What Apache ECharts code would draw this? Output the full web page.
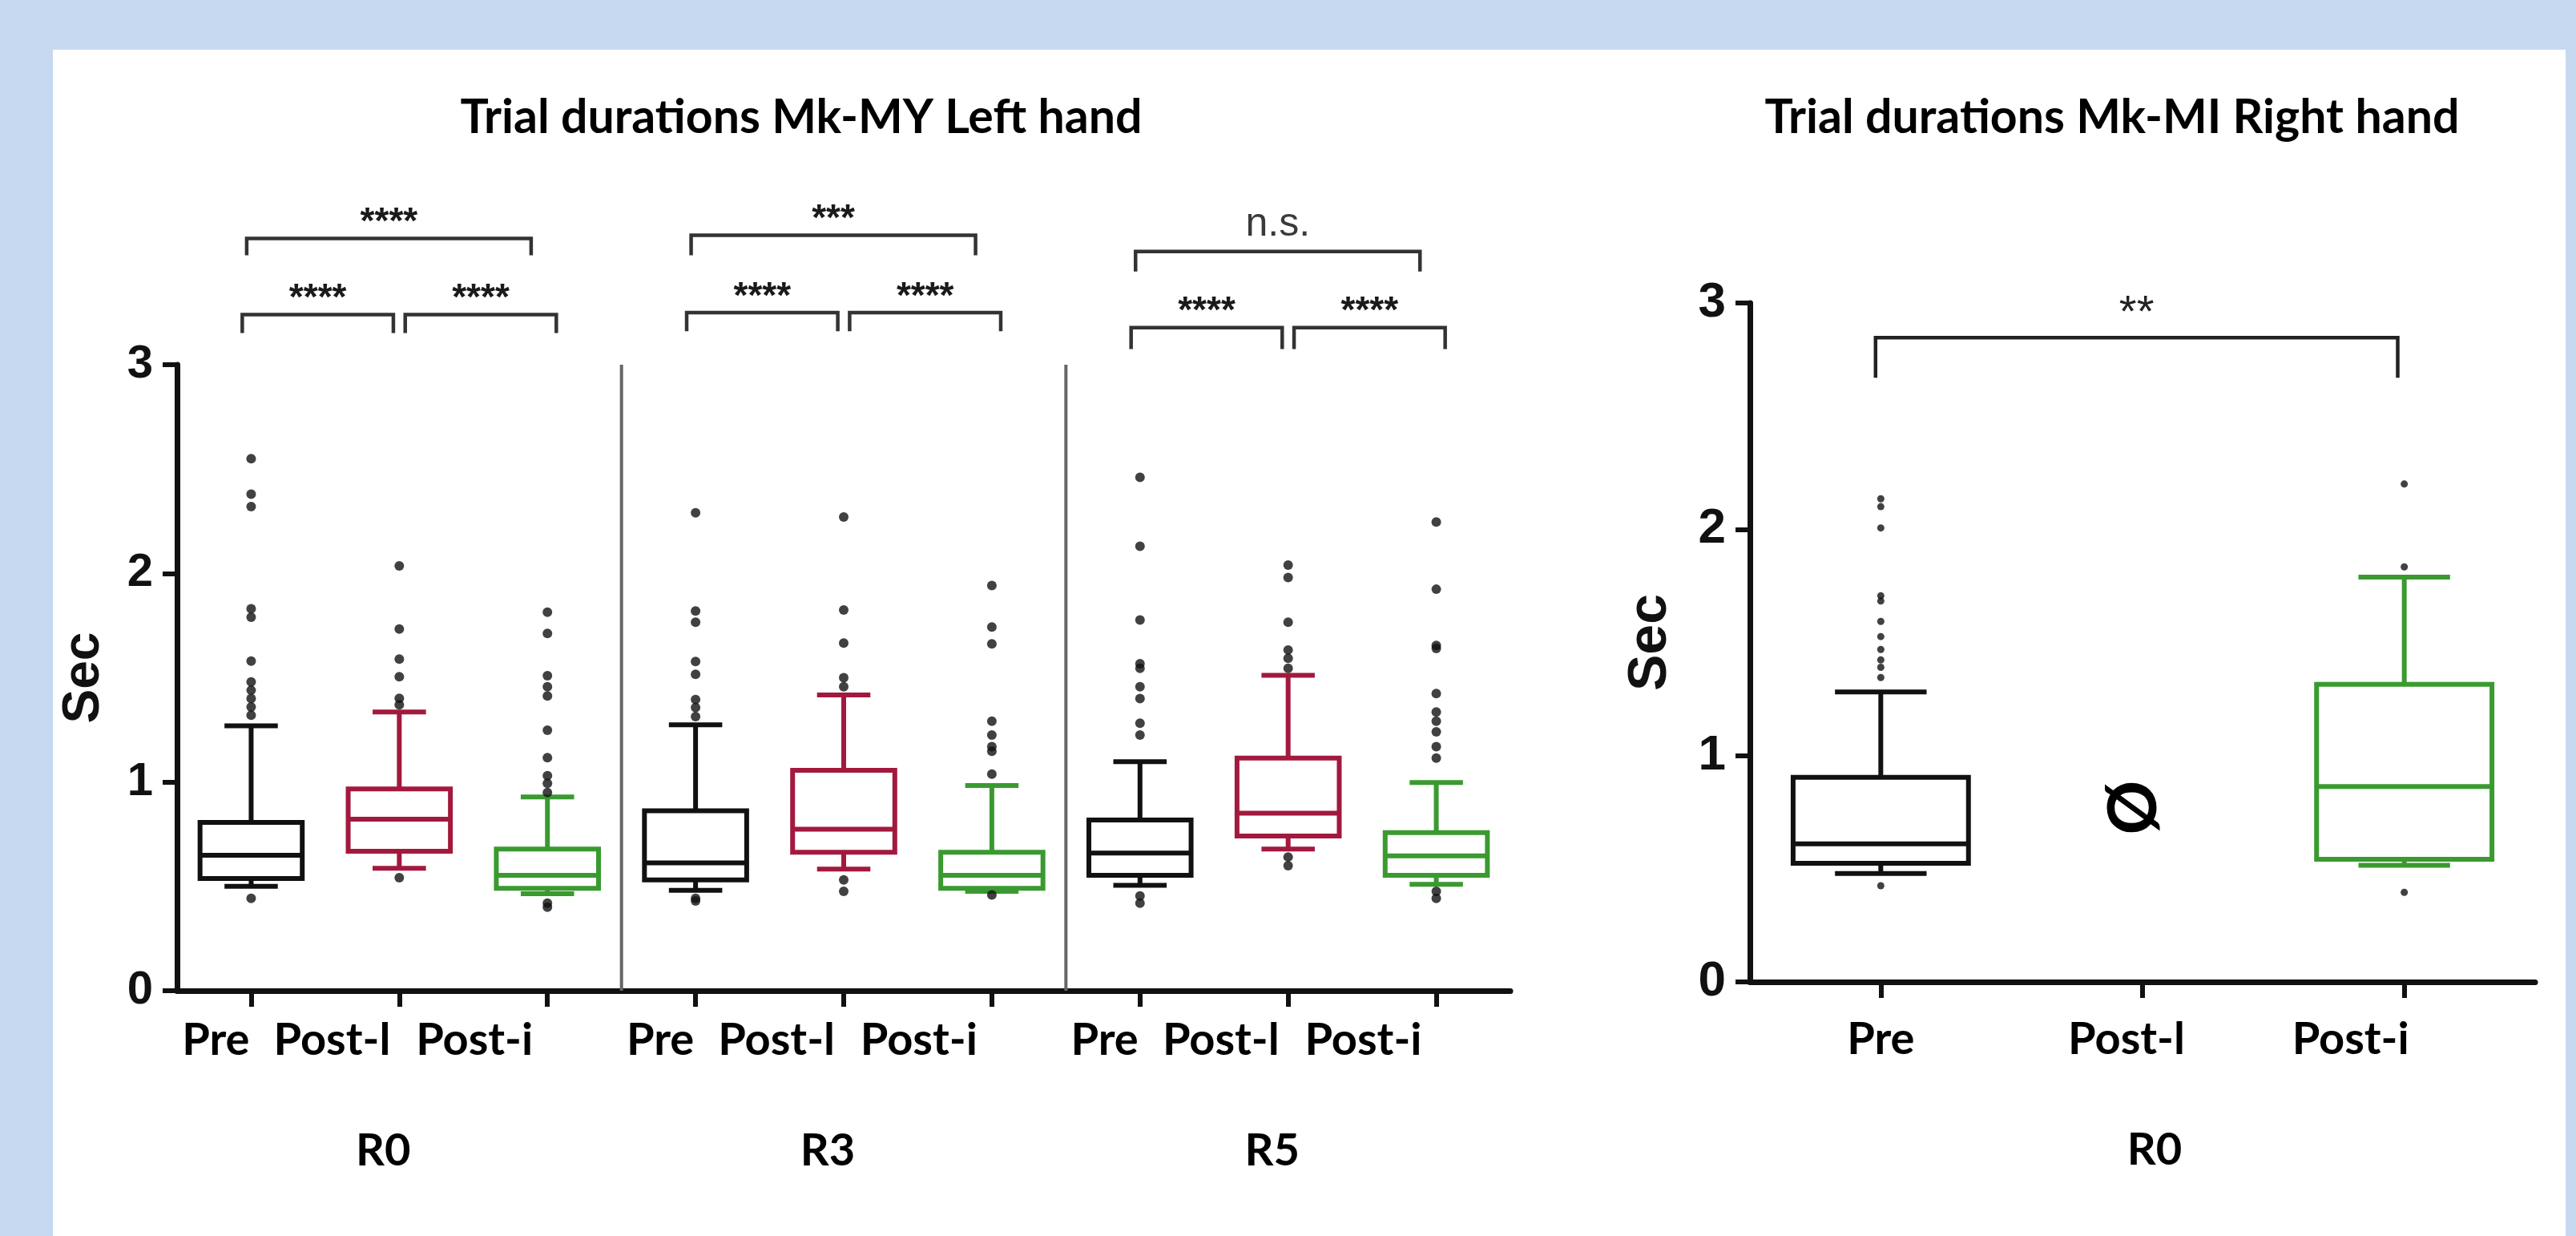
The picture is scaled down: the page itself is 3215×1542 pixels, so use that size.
<!DOCTYPE html>
<html><head><meta charset="utf-8">
<script src="https://cdn.jsdelivr.net/npm/echarts@6/dist/echarts.min.js"></script>
<style>
html,body{margin:0;padding:0;background:#c6d9f0;width:3215px;height:1542px;overflow:hidden;}
#panel{position:absolute;left:66px;top:62px;width:3136px;height:1480px;background:#fff;}
#c{position:absolute;left:0;top:0;width:3215px;height:1542px;}
</style>
</head><body><div id="panel"></div><div id="c"></div>
<script>
// ---------------- data ----------------
const categoriesLeft = ['Pre', 'Post-l', 'Post-i', 'Pre', 'Post-l', 'Post-i', 'Pre', 'Post-l', 'Post-i'];
const groupsLeft = ['R0', 'R3', 'R5'];
const categoriesRight = ['Pre', 'Post-l', 'Post-i'];
const groupsRight = ['R0'];
const yTickValues = [0, 1, 2, 3];
const titleLeft = 'Trial durations Mk-MY Left hand';
const titleRight = 'Trial durations Mk-MI Right hand';
const yName = 'Sec';
// [low whisker, Q1, median, Q3, high whisker]
const boxLeft = [
  [0.500, 0.538, 0.649, 0.807, 1.270],
  [0.587, 0.668, 0.822, 0.967, 1.336],
  [0.465, 0.491, 0.553, 0.679, 0.929],
  [0.481, 0.531, 0.613, 0.862, 1.274],
  [0.583, 0.664, 0.774, 1.056, 1.417],
  [0.476, 0.491, 0.553, 0.664, 0.983],
  [0.505, 0.553, 0.660, 0.818, 1.098],
  [0.679, 0.741, 0.851, 1.115, 1.512],
  [0.510, 0.553, 0.646, 0.758, 0.998]
];
const outliersLeft = [
  [2.55, 2.38, 2.32, 1.83, 1.79, 1.58, 1.48, 1.44, 1.40, 1.36, 1.32, 0.443],
  [2.036, 1.733, 1.589, 1.505, 1.401, 1.37, 0.542],
  [1.814, 1.712, 1.51, 1.457, 1.413, 1.248, 1.117, 1.03, 0.994, 0.95, 0.42, 0.40],
  [2.29, 1.82, 1.766, 1.578, 1.516, 1.395, 1.357, 1.314, 0.443, 0.43],
  [2.27, 1.825, 1.666, 1.50, 1.457, 0.531, 0.476],
  [1.942, 1.743, 1.662, 1.292, 1.225, 1.17, 1.148, 1.038, 0.459],
  [2.46, 2.13, 1.777, 1.567, 1.545, 1.457, 1.40, 1.282, 1.225, 0.454, 0.42],
  [2.04, 1.98, 1.766, 1.633, 1.593, 1.545, 0.641, 0.599],
  [2.246, 1.924, 1.655, 1.64, 1.424, 1.336, 1.292, 1.241, 1.17, 1.115, 0.476, 0.443]
];
const boxRight = [
  [0.479, 0.524, 0.610, 0.904, 1.281],
  null,
  [0.515, 0.542, 0.863, 1.315, 1.789]
];
const outliersRight = [
  [2.135, 2.10, 2.006, 1.706, 1.683, 1.593, 1.526, 1.469, 1.423, 1.39, 1.345, 0.425],
  [],
  [2.20, 1.834, 0.396]
];
// significance comparisons [from category, to category, label]
const sigLeft = [
  [0, 2, '****'], [0, 1, '****'], [1, 2, '****'],
  [3, 5, '***'], [3, 4, '****'], [4, 5, '****'],
  [6, 8, 'n.s.'], [6, 7, '****'], [7, 8, '****']
];
const sigRight = [[0, 2, '**']];
const missingRight = [[1, 'Ø']];

// ---------------- styling / layout (not data) ----------------
const boxColors = ['#111111', '#a3193e', '#3a9a30'];
const lineCol = '#111111';
const bracketCol = '#333333';
const catFont = 'Lato';
const numFont = 'Liberation Sans';
// tier heights per group: [topLine, topEnd, lowLine, lowEnd]
const tierY = [[3.605, 3.524, 3.24, 3.152], [3.62, 3.524, 3.25, 3.16], [3.543, 3.447, 3.178, 3.075]];

const chart = echarts.init(document.getElementById('c'), null, {renderer: 'canvas'});

function boxRenderer(lw, boxFrac, capFrac) {
  return function (params, api) {
    const idx = api.value(0);
    const v = [1, 2, 3, 4, 5].map(d => api.value(d));
    const band = api.size([1, 0])[0];
    const xc = api.coord([idx, v[2]])[0];
    const y = v.map(val => api.coord([idx, val])[1]);
    const bw = band * boxFrac, cw = band * capFrac;
    const c = boxColors[idx % 3];
    const st = {stroke: c, lineWidth: lw, fill: null};
    return {
      type: 'group',
      children: [
        {type: 'line', shape: {x1: xc, y1: y[3], x2: xc, y2: y[4]}, style: st},
        {type: 'line', shape: {x1: xc, y1: y[1], x2: xc, y2: y[0]}, style: st},
        {type: 'line', shape: {x1: xc - cw / 2, y1: y[4], x2: xc + cw / 2, y2: y[4]}, style: st},
        {type: 'line', shape: {x1: xc - cw / 2, y1: y[0], x2: xc + cw / 2, y2: y[0]}, style: st},
        {type: 'rect', shape: {x: xc - bw / 2, y: y[3], width: bw, height: y[1] - y[3]}, style: {stroke: c, lineWidth: lw, fill: null}},
        {type: 'line', shape: {x1: xc - bw / 2, y1: y[2], x2: xc + bw / 2, y2: y[2]}, style: st}
      ]
    };
  };
}

function boxData(arr) {
  const out = [];
  arr.forEach((b, i) => { if (b) out.push([i].concat(b)); });
  return out;
}
function outlierData(arr) {
  const out = [];
  arr.forEach((list, i) => list.forEach(v => out.push([i, v])));
  return out;
}

function bracketLeftRenderer(params, api) {
  const s = sigLeft[params.dataIndex];
  const a = s[0], b = s[1];
  const g = Math.floor(a / 3);
  const top = (b - a) === 2;
  let x1, x2, yh, ye;
  if (top) { x1 = a - 0.03; x2 = b - 0.11; yh = tierY[g][0]; ye = tierY[g][1]; }
  else if (a % 3 === 0) { x1 = a - 0.06; x2 = b - 0.04; yh = tierY[g][2]; ye = tierY[g][3]; }
  else { x1 = a + 0.04; x2 = b + 0.06; yh = tierY[g][2]; ye = tierY[g][3]; }
  const p1 = api.coord([x1, ye]), p2 = api.coord([x1, yh]), p3 = api.coord([x2, yh]), p4 = api.coord([x2, ye]);
  const isNs = s[2] === 'n.s.';
  return {
    type: 'group',
    children: [
      {type: 'polyline', shape: {points: [p1, p2, p3, p4]}, style: {stroke: bracketCol, lineWidth: 4.5, fill: null}},
      {type: 'text', x: (p2[0] + p3[0]) / 2, y: p2[1] - (isNs ? 8 : -4),
        style: {text: s[2], align: 'center', verticalAlign: 'bottom',
          font: isNs ? ('normal 50px "' + numFont + '"') : ('bold 46px "' + numFont + '"'),
          fill: isNs ? '#3a3a3a' : '#1a1a1a'}}
    ]
  };
}

function bracketRightRenderer(params, api) {
  const s = sigRight[params.dataIndex];
  const x1 = s[0] - 0.02, x2 = s[1] - 0.025, yh = 2.847, ye = 2.67;
  const p1 = api.coord([x1, ye]), p2 = api.coord([x1, yh]), p3 = api.coord([x2, yh]), p4 = api.coord([x2, ye]);
  return {
    type: 'group',
    children: [
      {type: 'polyline', shape: {points: [p1, p2, p3, p4]}, style: {stroke: '#222', lineWidth: 4.5, fill: null}},
      {type: 'text', x: (p2[0] + p3[0]) / 2, y: p2[1] - 2,
        style: {text: s[2], align: 'center', verticalAlign: 'bottom', font: 'normal 56px "' + numFont + '"', fill: '#222'}}
    ]
  };
}

function separatorRenderer(params, api) {
  const x = api.value(0);
  const p1 = api.coord([x, 0]), p2 = api.coord([x, 3]);
  return {type: 'line', shape: {x1: p1[0], y1: p1[1], x2: p2[0], y2: p2[1]}, style: {stroke: '#666', lineWidth: 4}};
}

function missingRenderer(params, api) {
  const m = missingRight[params.dataIndex];
  const p = api.coord([m[0] - 0.03, 0.77]);
  return {type: 'text', x: p[0], y: p[1], rotation: Math.PI / 2,
    style: {text: m[1], align: 'center', verticalAlign: 'middle', font: 'bold 84px "' + catFont + '"', fill: '#000'}};
}

const catStyle = {fontFamily: catFont, fontWeight: 'bold', fontSize: 56, color: '#000'};
const leftRich = {
  p0: Object.assign({padding: [0, 2, 0, 0]}, catStyle),
  p1: Object.assign({padding: [0, 11, 0, 0]}, catStyle),
  p2: Object.assign({padding: [0, 18, 0, 0]}, catStyle)
};
const rightRich = {
  p0: Object.assign({padding: [0, 0, 0, 0]}, catStyle),
  p1: Object.assign({padding: [0, 40, 0, 0]}, catStyle),
  p2: Object.assign({padding: [0, 134, 0, 0]}, catStyle)
};

function yAxisDef(gridIndex, labelSize, nameSize, nameGap) {
  return {
    gridIndex: gridIndex, type: 'value', min: yTickValues[0], max: yTickValues[yTickValues.length - 1], interval: 1,
    name: yName, nameLocation: 'middle', nameGap: nameGap,
    nameTextStyle: {fontFamily: numFont, fontWeight: 'bold', fontSize: nameSize, color: '#111'},
    axisLine: {show: true, onZero: false, lineStyle: {color: lineCol, width: 7}},
    axisTick: {show: true, length: 18, lineStyle: {color: lineCol, width: 6}},
    axisLabel: {margin: 30, fontFamily: numFont, fontWeight: 'bold', fontSize: labelSize, color: '#111'},
    splitLine: {show: false}
  };
}

const option = {
  animation: false,
  title: [
    {text: titleLeft, left: 995, top: 112, textAlign: 'center',
      textStyle: {fontFamily: catFont, fontWeight: 'bold', fontSize: 59, color: '#000'}},
    {text: titleRight, left: 2631, top: 112, textAlign: 'center',
      textStyle: {fontFamily: catFont, fontWeight: 'bold', fontSize: 59, color: '#000'}}
  ],
  grid: [
    {left: 221, top: 455, width: 1664, height: 781, containLabel: false},
    {left: 2184, top: 378, width: 980, height: 847, containLabel: false}
  ],
  xAxis: [
    {gridIndex: 0, type: 'category', data: categoriesLeft, position: 'bottom',
      axisLine: {show: true, onZero: false, lineStyle: {color: lineCol, width: 7}},
      axisTick: {show: true, alignWithLabel: true, length: 20, lineStyle: {color: lineCol, width: 6}},
      axisLabel: {interval: 0, margin: 34, align: 'right', rich: leftRich,
        formatter: (v, i) => '{p' + (i % 3) + '|' + v + '}'},
      splitLine: {show: false}},
    {gridIndex: 0, type: 'value', show: false, min: -0.5, max: categoriesLeft.length - 0.5},
    {gridIndex: 0, type: 'category', data: groupsLeft, position: 'bottom',
      axisLine: {show: false}, axisTick: {show: false}, splitLine: {show: false},
      axisLabel: Object.assign({interval: 0, margin: 172, padding: [0, 40, 0, 0]}, catStyle)},
    {gridIndex: 1, type: 'category', data: categoriesRight, position: 'bottom',
      axisLine: {show: true, onZero: false, lineStyle: {color: lineCol, width: 7}},
      axisTick: {show: true, alignWithLabel: true, length: 20, lineStyle: {color: lineCol, width: 6}},
      axisLabel: {interval: 0, margin: 44, rich: rightRich,
        formatter: (v, i) => '{p' + i + '|' + v + '}'},
      splitLine: {show: false}},
    {gridIndex: 1, type: 'value', show: false, min: -0.5, max: categoriesRight.length - 0.5},
    {gridIndex: 1, type: 'category', data: groupsRight, position: 'bottom',
      axisLine: {show: false}, axisTick: {show: false}, splitLine: {show: false},
      axisLabel: Object.assign({interval: 0, margin: 182, padding: [0, 0, 0, 30]}, catStyle)}
  ],
  yAxis: [
    yAxisDef(0, 58, 64, 84),
    yAxisDef(1, 62, 68, 90)
  ],
  series: [
    {type: 'custom', name: 'separators', xAxisIndex: 1, yAxisIndex: 0, clip: false, z: 1,
      data: groupsLeft.slice(1).map((g, k) => [(k + 1) * 3 - 0.5]), encode: {x: 0},
      renderItem: separatorRenderer},
    {type: 'custom', name: 'boxLeft', xAxisIndex: 0, yAxisIndex: 0, clip: false, z: 3,
      data: boxData(boxLeft), encode: {x: 0, y: [1, 2, 3, 4, 5]},
      renderItem: boxRenderer(6, 0.69, 0.36)},
    {type: 'scatter', name: 'outLeft', xAxisIndex: 0, yAxisIndex: 0, z: 4,
      data: outlierData(outliersLeft), symbol: 'circle', symbolSize: 12,
      itemStyle: {color: '#111'}},
    {type: 'custom', name: 'sigLeft', xAxisIndex: 1, yAxisIndex: 0, clip: false, z: 3,
      data: sigLeft.map(s => [s[0], s[1]]), encode: {x: [0, 1]},
      renderItem: bracketLeftRenderer},
    {type: 'custom', name: 'boxRight', xAxisIndex: 3, yAxisIndex: 1, clip: false, z: 3,
      data: boxData(boxRight), encode: {x: 0, y: [1, 2, 3, 4, 5]},
      renderItem: boxRenderer(6, 0.67, 0.35)},
    {type: 'scatter', name: 'outRight', xAxisIndex: 3, yAxisIndex: 1, z: 4,
      data: outlierData(outliersRight), symbol: 'circle', symbolSize: 9,
      itemStyle: {color: '#111'}},
    {type: 'custom', name: 'sigRight', xAxisIndex: 4, yAxisIndex: 1, clip: false, z: 3,
      data: sigRight.map(s => [s[0], s[1]]), encode: {x: [0, 1]},
      renderItem: bracketRightRenderer},
    {type: 'custom', name: 'missing', xAxisIndex: 4, yAxisIndex: 1, clip: false, z: 3,
      data: missingRight.map(m => [m[0]]), encode: {x: 0},
      renderItem: missingRenderer}
  ]
};
chart.setOption(option);
</script>
</body></html>
